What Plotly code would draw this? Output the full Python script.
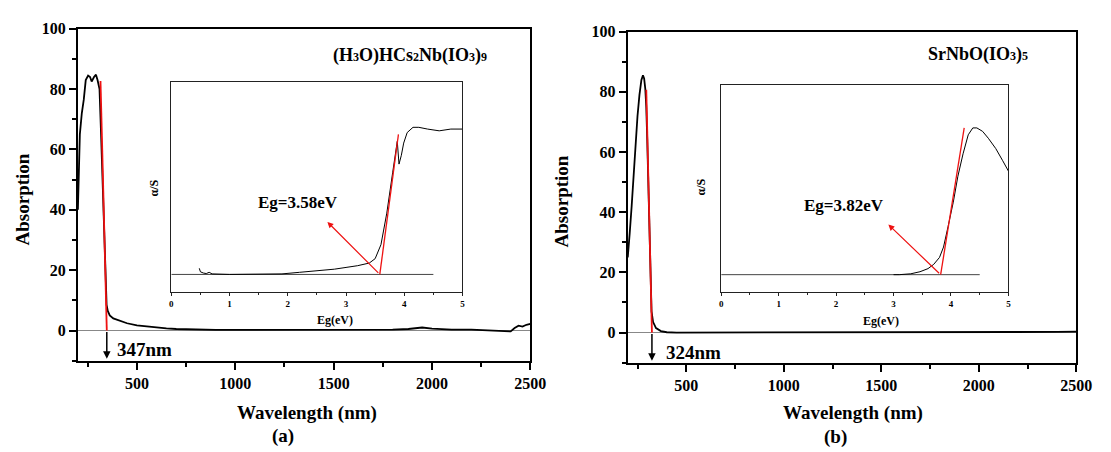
import plotly.graph_objects as go

# The page body has an 8px default margin, so the figure is drawn 8px in from
# the top-left corner; all pixel positions below are measured on the full
# 1111x452 picture and shifted by this offset.
OFF = 8
W, H = 1111 - OFF, 452 - OFF
FONT = "Liberation Serif"
RED = "#ee1111"

# ---------------- data ----------------
# (a) (H3O)HCs2Nb(IO3)9 main UV-vis-NIR spectrum
wl_a = [200, 205, 210, 220, 230, 240, 252, 262, 270, 282,
        292, 300, 310, 318, 328, 336, 342, 346, 352, 362,
        380, 410, 450, 500, 550, 600, 650, 700, 800, 900,
        1000, 1200, 1400, 1600, 1800, 1880, 1950, 2000, 2100, 2200,
        2300, 2370, 2400, 2420, 2440, 2460, 2480, 2500]
abs_a = [40, 55, 65, 72, 76.5, 83, 84.5, 84, 82.5, 84,
         84.8, 83, 80, 65, 42, 25, 12, 8.5, 6.5, 5,
         4, 3.2, 2.4, 1.7, 1.3, 1.0, 0.7, 0.5, 0.3, 0.2,
         0.2, 0.2, 0.2, 0.2, 0.3, 0.5, 1.0, 0.6, 0.3, 0.3,
         0.1, -0.1, -0.3, 0.8, 1.6, 1.3, 1.9, 2.2]
tangent_a_wl = [347, 315]
tangent_a_abs = [0, 82.7]
edge_a = 347

# (b) SrNbO(IO3)5 main spectrum
wl_b = [200, 205, 210, 220, 230, 240, 250, 260, 270, 278,
        284, 290, 295, 300, 307, 313, 318, 322, 330, 345,
        370, 400, 450, 600, 1000, 1500, 2000, 2100, 2200, 2300,
        2400, 2500]
abs_b = [25, 28, 33, 42, 53, 63, 72, 79, 84, 85.5,
         84.5, 81, 75, 64, 42, 24, 12, 7, 3.5, 1.5,
         0.5, 0.1, 0, 0, 0, 0, 0, 0.1, 0.2, 0.1,
         0.2, 0.3]
tangent_b_wl = [324, 295]
tangent_b_abs = [0, 80.7]
edge_b = 324

# inset (a): alpha/S vs Eg
eg_a = [0.48, 0.5, 0.55, 0.6, 0.65, 0.7, 1.0, 1.5, 1.9, 2.2,
        2.5, 2.8, 3.0, 3.2, 3.4, 3.5, 3.6, 3.7, 3.8, 3.88,
        3.91, 3.95, 3.99, 4.05, 4.15, 4.25, 4.4, 4.6, 4.8, 5.0]
as_a = [0.035, 0.015, 0.008, 0.005, 0.012, 0.003, 0.0, 0.0, 0.003, 0.012,
        0.02, 0.03, 0.04, 0.05, 0.065, 0.09, 0.17, 0.35, 0.58, 0.76,
        0.63, 0.68, 0.75, 0.81, 0.84, 0.84, 0.83, 0.82, 0.83, 0.83]
inset_tan_a_x = [3.58, 3.9]
inset_tan_a_y = [0, 0.80]
gap_a = 3.58
arrow_a_head = (2.68, 0.30)

# inset (b)
eg_b = [3.0, 3.1, 3.3, 3.46, 3.6, 3.7, 3.8, 3.87, 3.95, 4.04,
        4.12, 4.21, 4.3, 4.38, 4.45, 4.55, 4.65, 4.78, 4.9, 5.0]
as_b = [0, 0, 0.005, 0.017, 0.035, 0.06, 0.1, 0.16, 0.28, 0.42,
        0.57, 0.70, 0.81, 0.85, 0.85, 0.83, 0.79, 0.73, 0.66, 0.60]
inset_tan_b_x = [3.82, 4.23]
inset_tan_b_y = [0, 0.85]
gap_b = 3.82
arrow_b_head = (2.91, 0.29)

baseline_x = [0, 4.5]
baseline_y = [0, 0]

y_ticks = [0, 20, 40, 60, 80, 100]
x_ticks = [500, 1000, 1500, 2000, 2500]
inset_ticks = [0, 1, 2, 3, 4, 5]

# ---------------- figure ----------------
fig = go.Figure()


def line(x, y, xa, ya, color="black", width=1.6):
    fig.add_trace(go.Scatter(x=x, y=y, xaxis=xa, yaxis=ya, mode="lines",
                             line=dict(color=color, width=width),
                             hoverinfo="skip", showlegend=False))


line(wl_a, abs_a, "x", "y", width=1.8)
line(tangent_a_wl, tangent_a_abs, "x", "y", RED, 1.8)
line(baseline_x, baseline_y, "x2", "y2", "#444", 1)
line(eg_a, as_a, "x2", "y2", "black", 1)
line(inset_tan_a_x, inset_tan_a_y, "x2", "y2", RED, 1.3)

line(wl_b, abs_b, "x3", "y3", width=1.8)
line(tangent_b_wl, tangent_b_abs, "x3", "y3", RED, 1.8)
line(baseline_x, baseline_y, "x4", "y4", "#444", 1)
line(eg_b, as_b, "x4", "y4", "black", 1)
line(inset_tan_b_x, inset_tan_b_y, "x4", "y4", RED, 1.3)


def xd(p0, p1):
    return [(p0 - OFF) / W, (p1 - OFF) / W]


def yd(top, bottom):
    return [1 - (bottom - OFF) / H, 1 - (top - OFF) / H]


tickfont_main = dict(family=FONT, size=16, color="black", weight="bold")
tickfont_in = dict(family=FONT, size=9, color="black", weight="bold")


def main_x(dom, anchor):
    return dict(domain=dom, anchor=anchor, range=[200, 2500], showline=True,
                linecolor="black", linewidth=2, mirror=True, ticks="outside",
                ticklen=7, tickwidth=2, tickcolor="black", tickvals=x_ticks,
                tickfont=tickfont_main, showgrid=False, zeroline=False,
                minor=dict(ticks="outside", ticklen=4, tickwidth=1.5,
                           tickcolor="black", dtick=250, tick0=0))


def main_y(dom, anchor):
    return dict(domain=dom, anchor=anchor, range=[-10, 100], showline=True,
                linecolor="black", linewidth=2, mirror=True, ticks="outside",
                ticklen=7, tickwidth=2, tickcolor="black", tickvals=y_ticks,
                tickfont=tickfont_main, showgrid=False, zeroline=True,
                zerolinecolor="#888", zerolinewidth=1,
                minor=dict(ticks="outside", ticklen=4, tickwidth=1.5,
                           tickcolor="black", dtick=10, tick0=0))


def inset_x(dom, anchor):
    return dict(domain=dom, anchor=anchor, range=[0, 5], showline=True,
                linecolor="#222", linewidth=1, mirror=True, ticks="outside",
                ticklen=3, tickwidth=1, tickcolor="#222", tickvals=inset_ticks,
                tickfont=tickfont_in, showgrid=False, zeroline=False,
                minor=dict(ticks="outside", ticklen=2, tickwidth=1,
                           tickcolor="#222", dtick=0.5, tick0=0))


def inset_y(dom, anchor):
    return dict(domain=dom, anchor=anchor, range=[-0.1, 1.1], showline=True,
                linecolor="#222", linewidth=1, mirror=True, ticks="",
                showticklabels=False, showgrid=False, zeroline=False)


fig.update_layout(
    width=W, height=H, margin=dict(l=0, r=0, t=0, b=0),
    paper_bgcolor="white", plot_bgcolor="rgba(0,0,0,0)",
    showlegend=False,
    xaxis=main_x(xd(77, 537), "y"),
    yaxis=main_y(yd(21, 359), "x"),
    xaxis2=inset_x(xd(172, 468), "y2"),
    yaxis2=inset_y(yd(75, 289), "x2"),
    xaxis3=main_x(xd(636, 1092), "y3"),
    yaxis3=main_y(yd(24, 361), "x3"),
    xaxis4=inset_x(xd(731, 1023), "y4"),
    yaxis4=inset_y(yd(78, 289), "x4"),
)

ann = []


def ptext(text, px, py, size, angle=0, xanchor="center"):
    ann.append(dict(text=text, x=(px - OFF) / W, y=1 - (py - OFF) / H,
                    xref="paper", yref="paper",
                    showarrow=False, xanchor=xanchor, yanchor="middle",
                    textangle=angle,
                    font=dict(family=FONT, size=size, color="black", weight="bold")))


def sub(d):
    return "<span style='font-size:12px'>%s</span>" % d


# axis titles and panel labels
ptext("Absorption", 21, 195, 19, -90)
ptext("Absorption", 569, 197, 19, -90)
ptext("Wavelength (nm)", 310, 412, 19)
ptext("Wavelength (nm)", 865, 412, 19)
ptext("(a)", 286, 436, 19)
ptext("(b)", 847, 437, 19)
# compound names
ptext("(H" + sub("3") + "O)HCs" + sub("2") + "Nb(IO" + sub("3") + ")" + sub("9"), 415, 48, 18)
ptext("SrNbO(IO" + sub("3") + ")" + sub("5"), 992, 47, 18)
# inset axis titles
ptext("Eg(eV)", 338, 318, 12)
ptext("Eg(eV)", 893, 319, 12)
ptext("α/S", 154, 183, 12, -90)
ptext("α/S", 710, 182, 12, -90)

# edge arrows and labels
for xa, ya, edge, lbl_x, lbl_y in [("x", "y", edge_a, 390, -6.2),
                                  ("x3", "y3", edge_b, 386, -6.5)]:
    ann.append(dict(x=edge, y=-9.4, ax=edge, ay=0, xref=xa, yref=ya,
                    axref=xa, ayref=ya, text="", showarrow=True,
                    arrowhead=2, arrowsize=1, arrowwidth=1.5, arrowcolor="black"))
    ann.append(dict(x=lbl_x, y=lbl_y, xref=xa, yref=ya, text="%dnm" % edge,
                    showarrow=False, xanchor="left", yanchor="middle",
                    font=dict(family=FONT, size=19, color="black", weight="bold")))

# inset red arrows and band gap labels
for xa, ya, gap, head, txt_xy in [("x2", "y2", gap_a, arrow_a_head, (2.17, 0.41)),
                                  ("x4", "y4", gap_b, arrow_b_head, (2.14, 0.40))]:
    ann.append(dict(x=head[0], y=head[1], ax=gap, ay=0, xref=xa, yref=ya,
                    axref=xa, ayref=ya, text="", showarrow=True,
                    arrowhead=2, arrowsize=1, arrowwidth=1.2, arrowcolor=RED))
    ann.append(dict(x=txt_xy[0], y=txt_xy[1], xref=xa, yref=ya,
                    text="Eg=%.2feV" % gap, showarrow=False,
                    xanchor="center", yanchor="middle",
                    font=dict(family=FONT, size=17, color="black", weight="bold")))

fig.update_layout(annotations=ann)

fig.write_html("out.html", config={"displayModeBar": False})
